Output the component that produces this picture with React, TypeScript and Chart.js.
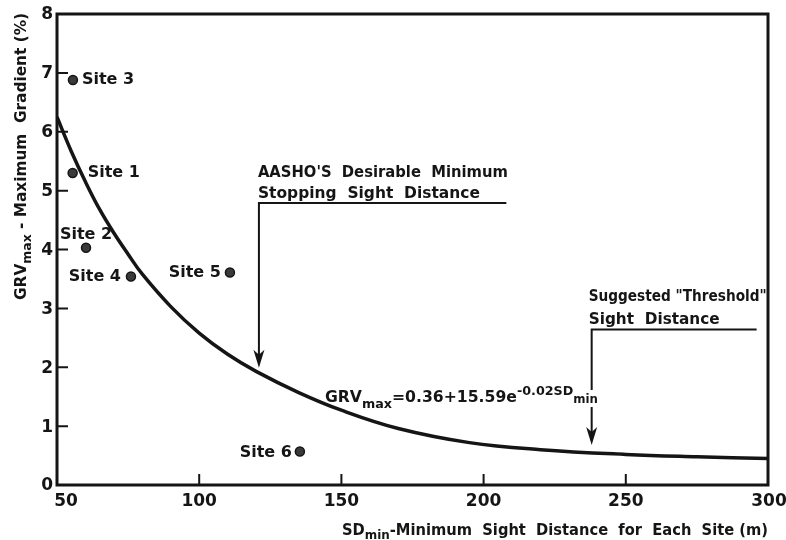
import { useEffect, useRef } from "react";
import { Chart, registerables } from "chart.js";

Chart.register(...registerables);

// ---- data ----
const SITE_NAMES = ["Site 1", "Site 2", "Site 3", "Site 4", "Site 5", "Site 6"];
const SITE_SD = [55.5, 60.2, 55.6, 76.0, 110.8, 135.4];
const SITE_GRV = [5.3, 4.03, 6.88, 3.54, 3.61, 0.57];

const CURVE_SD = [50, 55, 60, 65, 70, 75, 80, 90, 100, 110, 120, 135, 150, 170, 195, 220, 250, 275, 300];
const CURVE_GRV = [6.25, 5.67, 5.15, 4.68, 4.28, 3.92, 3.58, 3.03, 2.58, 2.22, 1.93, 1.57, 1.27, 0.96, 0.72, 0.6, 0.52, 0.48, 0.45];

const X_TICKS = [50, 100, 150, 200, 250, 300];
const Y_TICKS = [0, 1, 2, 3, 4, 5, 6, 7, 8];

// annotation anchors (data units)
const AASHO = { sd: 121, top: 4.79, tip: 1.99, end: 208 };
const THRESH = { sd: 238, top: 2.64, tip: 0.68, end: 296 };
const FORMULA_AT = { sd: 144.2, grv: 1.41 };

const INK = "#151515";
const FONT = '"DejaVu Sans", sans-serif';

type Seg = { t: string; size: number; dy: number };

function fontOf(size: number) {
  return `bold ${size}px ${FONT}`;
}

function richWidth(ctx: CanvasRenderingContext2D, segs: Seg[]) {
  let w = 0;
  for (const s of segs) {
    ctx.font = fontOf(s.size);
    w += ctx.measureText(s.t).width;
  }
  return w;
}

function drawRich(ctx: CanvasRenderingContext2D, segs: Seg[], x: number, y: number, target?: number) {
  const w = richWidth(ctx, segs);
  const sx = target ? Math.max(0.75, Math.min(1.25, target / w)) : 1;
  ctx.save();
  ctx.translate(x, y);
  ctx.scale(sx, 1);
  ctx.textAlign = "left";
  ctx.textBaseline = "alphabetic";
  let cx = 0;
  for (const s of segs) {
    ctx.font = fontOf(s.size);
    ctx.fillText(s.t, cx, s.dy);
    cx += ctx.measureText(s.t).width;
  }
  ctx.restore();
}

function arrowHead(ctx: CanvasRenderingContext2D, x: number, tipY: number) {
  ctx.beginPath();
  ctx.moveTo(x, tipY);
  ctx.lineTo(x - 5.5, tipY - 18);
  ctx.lineTo(x, tipY - 13);
  ctx.lineTo(x + 5.5, tipY - 18);
  ctx.closePath();
  ctx.fill();
}

const decorPlugin = {
  id: "decor",
  afterDatasetsDraw(chart: any) {
    const ctx: CanvasRenderingContext2D = chart.ctx;
    const xs = chart.scales.x;
    const ys = chart.scales.y;
    const a = chart.chartArea;
    ctx.save();
    ctx.fillStyle = INK;
    ctx.strokeStyle = INK;

    // frame
    ctx.lineWidth = 3;
    ctx.strokeRect(a.left, a.top, a.right - a.left, a.bottom - a.top);

    // tick marks (inward)
    ctx.lineWidth = 2;
    ctx.beginPath();
    for (const v of Y_TICKS) {
      if (v === 0 || v === 8) continue;
      const py = ys.getPixelForValue(v);
      ctx.moveTo(a.left, py);
      ctx.lineTo(a.left + 11, py);
    }
    for (const v of X_TICKS) {
      if (v === 50 || v === 300) continue;
      const px = xs.getPixelForValue(v);
      ctx.moveTo(px, a.bottom);
      ctx.lineTo(px, a.bottom - 11);
    }
    ctx.stroke();

    // tick labels
    ctx.font = fontOf(17);
    ctx.textAlign = "right";
    ctx.textBaseline = "middle";
    for (const v of Y_TICKS) {
      ctx.fillText(String(v), a.left - 4, ys.getPixelForValue(v) + 1);
    }
    ctx.textAlign = "center";
    ctx.textBaseline = "alphabetic";
    for (const v of X_TICKS) {
      const px = xs.getPixelForValue(v) + (v === 50 ? 9 : v === 300 ? 1 : 0);
      ctx.fillText(String(v), px, a.bottom + 21);
    }

    // axis titles
    drawRich(
      ctx,
      [
        { t: "SD", size: 16, dy: 0 },
        { t: "min", size: 13, dy: 4 },
        { t: "-Minimum  Sight  Distance  for  Each  Site (m)", size: 16, dy: 0 },
      ],
      342,
      535,
      426
    );
    ctx.save();
    ctx.translate(26, 300);
    ctx.rotate(-Math.PI / 2);
    drawRich(
      ctx,
      [
        { t: "GRV", size: 16, dy: 0 },
        { t: "max", size: 13, dy: 5 },
        { t: " - Maximum  Gradient (%)", size: 16, dy: 0 },
      ],
      0,
      0,
      287
    );
    ctx.restore();

    // site labels
    ctx.font = fontOf(16);
    ctx.textBaseline = "middle";
    const offs: Record<string, [number, number, CanvasTextAlign]> = {
      "Site 1": [15, 0, "left"],
      "Site 2": [0, -13, "center"],
      "Site 3": [9, 0, "left"],
      "Site 4": [-10, 0, "right"],
      "Site 5": [-9, 0, "right"],
      "Site 6": [-8, 1, "right"],
    };
    SITE_NAMES.forEach((n, i) => {
      const px = xs.getPixelForValue(SITE_SD[i]);
      const py = ys.getPixelForValue(SITE_GRV[i]);
      const o = offs[n];
      ctx.textAlign = o[2];
      ctx.fillText(n, px + o[0], py + o[1]);
    });

    // AASHO annotation
    ctx.lineWidth = 2;
    {
      const x0 = xs.getPixelForValue(AASHO.sd);
      const yT = ys.getPixelForValue(AASHO.top);
      const yTip = ys.getPixelForValue(AASHO.tip);
      const x1 = xs.getPixelForValue(AASHO.end);
      ctx.beginPath();
      ctx.moveTo(x1, yT);
      ctx.lineTo(x0, yT);
      ctx.lineTo(x0, yTip - 12);
      ctx.stroke();
      arrowHead(ctx, x0, yTip);
      drawRich(ctx, [{ t: "AASHO'S  Desirable  Minimum", size: 16, dy: 0 }], x0 - 1, yT - 26, 250);
      drawRich(ctx, [{ t: "Stopping  Sight  Distance", size: 16, dy: 0 }], x0 - 1, yT - 5, 222);
    }

    // formula
    const fx = xs.getPixelForValue(FORMULA_AT.sd);
    const fy = ys.getPixelForValue(FORMULA_AT.grv);
    drawRich(
      ctx,
      [
        { t: "GRV", size: 16, dy: 0 },
        { t: "max", size: 13, dy: 6 },
        { t: "=0.36+15.59e", size: 16, dy: 0 },
        { t: "-0.02SD", size: 13, dy: -7 },
        { t: "min", size: 12, dy: 1 },
      ],
      fx,
      fy,
      273
    );

    // Threshold annotation
    {
      const x0 = xs.getPixelForValue(THRESH.sd);
      const yT = ys.getPixelForValue(THRESH.top);
      const yTip = ys.getPixelForValue(THRESH.tip);
      const x1 = xs.getPixelForValue(THRESH.end);
      ctx.beginPath();
      ctx.moveTo(x1, yT);
      ctx.lineTo(x0, yT);
      ctx.lineTo(x0, fy - 12);
      ctx.moveTo(x0, fy + 5);
      ctx.lineTo(x0, yTip - 12);
      ctx.stroke();
      arrowHead(ctx, x0, yTip);
      drawRich(ctx, [{ t: 'Suggested "Threshold"', size: 16, dy: 0 }], x0 - 3, yT - 29, 178);
      drawRich(ctx, [{ t: "Sight  Distance", size: 16, dy: 0 }], x0 - 3, yT - 6, 131);
    }

    ctx.restore();
  },
};

export default function App() {
  const ref = useRef<HTMLCanvasElement | null>(null);
  useEffect(() => {
    if (!ref.current) return;
    const chart = new Chart(ref.current, {
      type: "scatter",
      data: {
        datasets: [
          {
            type: "line",
            label: "GRVmax fit",
            data: CURVE_SD.map((x, i) => ({ x, y: CURVE_GRV[i] })),
            borderColor: INK,
            borderWidth: 3.5,
            pointRadius: 0,
            fill: false,
            tension: 0.4,
          } as any,
          {
            type: "scatter",
            label: "Sites",
            data: SITE_SD.map((x, i) => ({ x, y: SITE_GRV[i] })),
            backgroundColor: "#3a3a3a",
            borderColor: INK,
            borderWidth: 1.5,
            pointRadius: 4.5,
          },
        ],
      },
      options: {
        animation: false,
        responsive: false,
        devicePixelRatio: 1,
        layout: { padding: { left: 0, top: 14, right: 18, bottom: 0 } },
        plugins: { legend: { display: false }, tooltip: { enabled: false } },
        scales: {
          x: {
            type: "linear",
            min: 50,
            max: 300,
            ticks: { display: false, stepSize: 50 },
            grid: { display: false },
            border: { display: false },
            afterFit: (s: any) => {
              s.height = 55;
            },
          },
          y: {
            type: "linear",
            min: 0,
            max: 8,
            ticks: { display: false, stepSize: 1 },
            grid: { display: false },
            border: { display: false },
            afterFit: (s: any) => {
              s.width = 57;
            },
          },
        },
      } as any,
      plugins: [decorPlugin],
    });
    return () => chart.destroy();
  }, []);
  return (
    <div style={{ position: "fixed", left: 0, top: 0, width: 786, height: 540, background: "#fff" }}>
      <canvas ref={ref} width={786} height={540} style={{ width: 786, height: 540, display: "block" }} />
    </div>
  );
}
